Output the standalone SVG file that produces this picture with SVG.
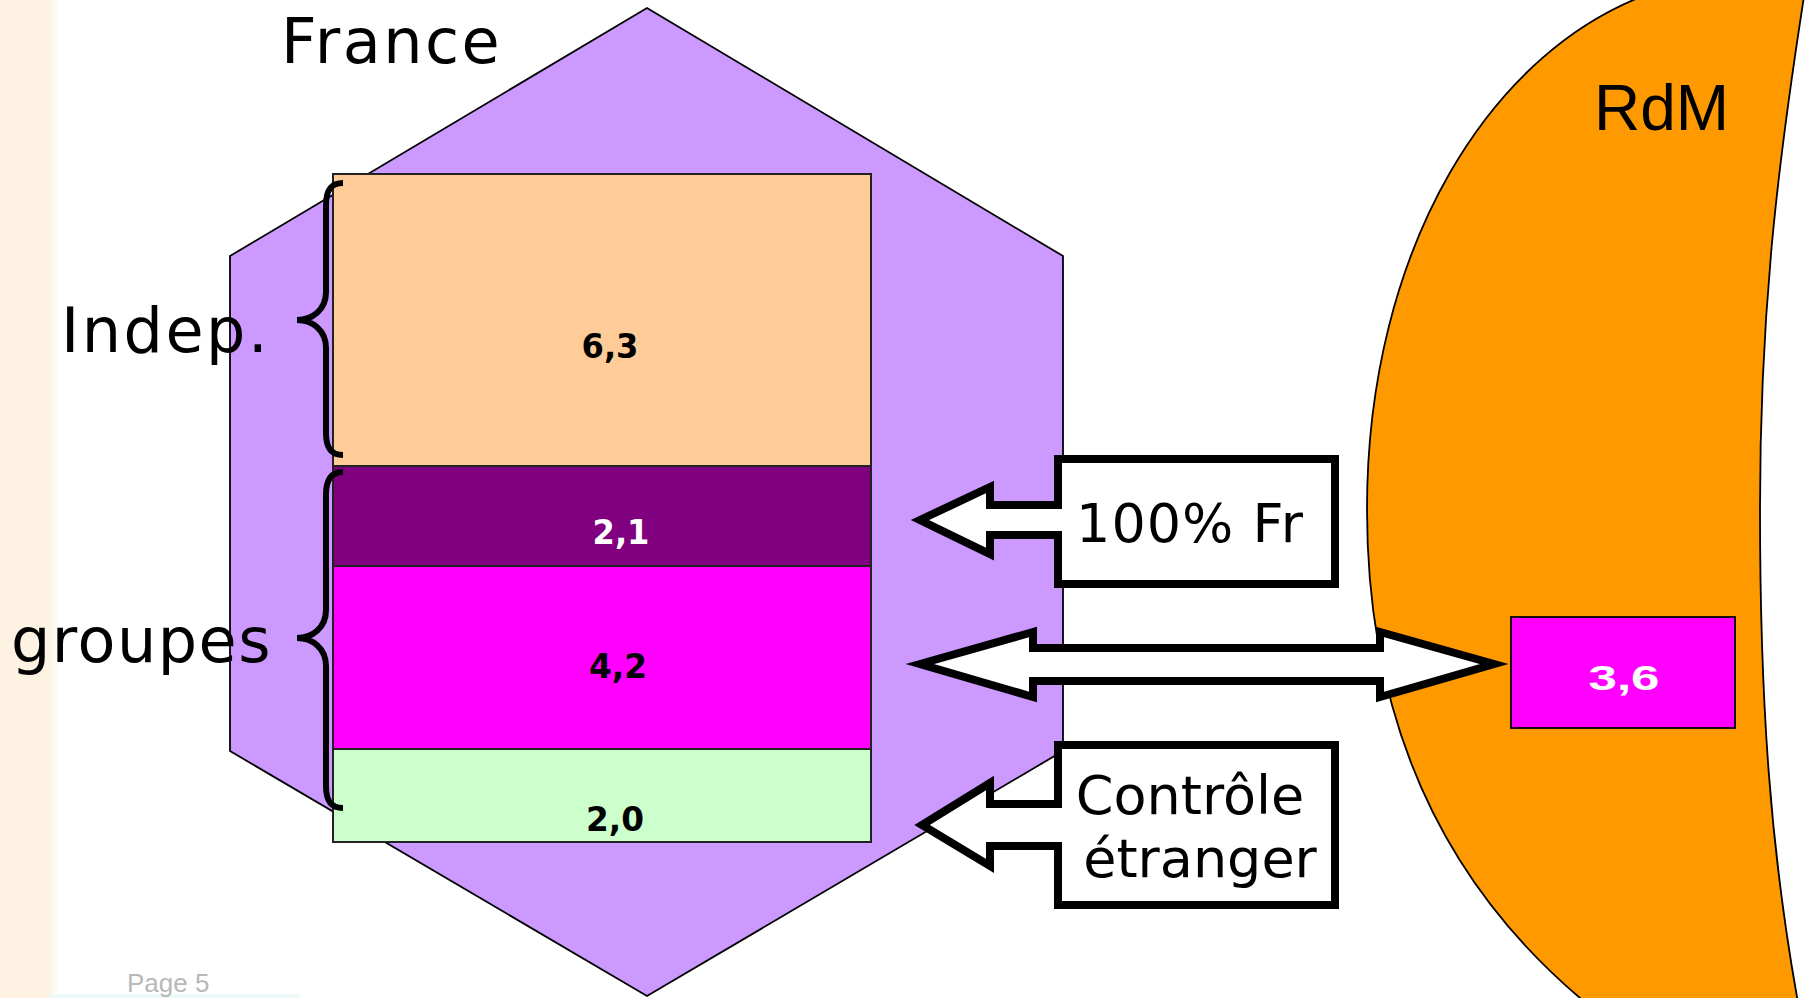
<svg xmlns="http://www.w3.org/2000/svg" width="1807" height="998" viewBox="0 0 1807 998">
  <defs>
    <linearGradient id="stripFade" x1="0" y1="0" x2="1" y2="0">
      <stop offset="0" stop-color="#FEF3E3"/>
      <stop offset="1" stop-color="#FFFFFF"/>
    </linearGradient>
    <style>
      .thin { stroke: #000; stroke-width: 1.8; }
      .band { stroke: #222; stroke-width: 2; }
      .callout { fill: #FFFFFF; stroke: #000; stroke-width: 8; stroke-linejoin: miter; stroke-miterlimit: 10; }
      .brace { fill: none; stroke: #000; stroke-width: 6; stroke-linecap: butt; }
      .big { font-family: "DejaVu Sans", Verdana, sans-serif; font-size: 62px; letter-spacing: 2.5px; fill: #000; }
      .big.tight { letter-spacing: 1.5px; }
      .box { font-family: "DejaVu Sans", Verdana, sans-serif; font-size: 54px; fill: #000; text-anchor: middle; }
      .num { font-family: "DejaVu Sans", Verdana, sans-serif; font-size: 33px; font-weight: bold; text-anchor: middle; }
    </style>
  </defs>

  <rect x="0" y="0" width="1807" height="998" fill="#FFFFFF"/>
  <rect x="0" y="0" width="50" height="998" fill="#FEF3E3"/>
  <rect x="50" y="0" width="9" height="998" fill="url(#stripFade)"/>
  <rect x="50" y="994" width="250" height="4" fill="#EDF8F8"/>
  <text x="127" y="992" font-family="'Liberation Sans', Arial, sans-serif" font-size="26" fill="#B8B8B8">Page 5</text>

  <g id="france">
    <polygon class="thin" fill="#CC99FF" points="647,8 1063,256 1063,751 647,996 230,751 230,256"/>
    <text class="big" x="281" y="63">France</text>
  </g>

  <g id="stack">
    <g id="indep-band">
      <rect class="band" x="333" y="174" width="538" height="292" fill="#FFCC99"/>
      <text class="num" x="610" y="358" fill="#000" textLength="57" lengthAdjust="spacingAndGlyphs">6,3</text>
    </g>
    <g id="band-21">
      <rect class="band" x="333" y="466" width="538" height="100" fill="#800080"/>
      <text class="num" x="621" y="544" fill="#FFFFFF" textLength="57" lengthAdjust="spacingAndGlyphs">2,1</text>
    </g>
    <g id="band-42">
      <rect class="band" x="333" y="566" width="538" height="183" fill="#FF00FF"/>
      <text class="num" x="618" y="678" fill="#000" textLength="58" lengthAdjust="spacingAndGlyphs">4,2</text>
    </g>
    <g id="band-20">
      <rect class="band" x="333" y="749" width="538" height="93" fill="#CCFFCC"/>
      <text class="num" x="615" y="831" fill="#000" textLength="58" lengthAdjust="spacingAndGlyphs">2,0</text>
    </g>
  </g>

  <g id="indep-label">
    <path class="brace" d="M343,183 C331,183 326,190 326,205 L326,292 C326,310 312,320 297,320 C312,320 326,330 326,348 L326,433 C326,448 331,455 343,455"/>
    <text class="big" x="61" y="352">Indep.</text>
  </g>

  <g id="groupes-label">
    <path class="brace" d="M343,472 C331,472 326,480 326,495 L326,610 C326,628 312,638 297,638 C312,638 326,648 326,666 L326,786 C326,801 331,808 343,808"/>
    <text class="big tight" x="11" y="662">groupes</text>
  </g>

  <g id="rdm">
    <path class="thin" fill="#FF9900" d="M1660,-10 C1490,45 1367,250 1367,509 C1367,750 1465,905 1592,1008 L1799,1008 C1770,850 1760,700 1760,509 C1760,300 1780,150 1805,-10 Z"/>
    <text x="1594" y="130" font-family="'Liberation Sans', Arial, sans-serif" font-size="64" fill="#000">RdM</text>
  </g>

  <g id="rdm-groupes">
    <rect class="thin" x="1511" y="617" width="224" height="111" fill="#FF00FF"/>
    <text x="1624" y="690" font-family="'Liberation Sans', Arial, sans-serif" font-size="35" font-weight="bold" fill="#FFFFFF" text-anchor="middle" textLength="71" lengthAdjust="spacingAndGlyphs">3,6</text>
  </g>

  <g id="connectors">
    <g id="callout-100fr">
      <polygon class="callout" points="1058,459 1335,459 1335,584 1058,584 1058,535 990,535 990,554 920,520 990,487 990,505 1058,505"/>
      <text class="box" x="1190" y="542" letter-spacing="1">100% Fr</text>
    </g>
    <g id="callout-etranger">
      <polygon class="callout" points="1058,745 1335,745 1335,905 1058,905 1058,846 990,846 990,866 922,825 990,783 990,804 1058,804"/>
      <text class="box" x="1190" y="814">Contrôle</text>
      <text class="box" x="1200" y="877">étranger</text>
    </g>
    <polygon id="double-arrow" class="callout" points="920,664 1033,632 1033,648 1380,648 1380,632 1494,664 1380,697 1380,681 1033,681 1033,697"/>
  </g>
</svg>
